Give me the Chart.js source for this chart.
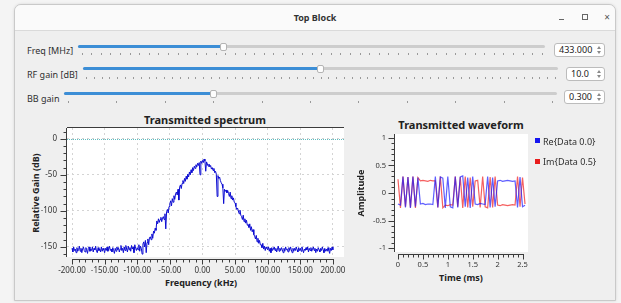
<!DOCTYPE html>
<html>
<head>
<meta charset="utf-8">
<script src="https://cdn.jsdelivr.net/npm/chart.js@4.4.1/dist/chart.umd.min.js"></script>
<style>
  body { margin: 0; width: 621px; height: 303px; overflow: hidden; position: relative;
         background: #f4f4f4; font-family: "Noto Sans", sans-serif; color: #2f2f2f; }
  .abs { position: absolute; }
  #win { left: 14px; top: 4px; width: 602px; height: 297px; box-sizing: border-box;
         background: #efefef; border: 1px solid #c9c9c9; border-radius: 7px 7px 0 0;
         box-shadow: 0 0 3px rgba(0,0,0,0.12); }
  #bar { left: 15px; top: 5px; width: 600px; height: 25px; background: #fafafa;
         border-bottom: 1px solid #dadada; border-radius: 6px 6px 0 0; }
  .c { position: absolute; transform: translate(-50%, -50%); white-space: nowrap; }
  .l { position: absolute; transform: translateY(-50%); white-space: nowrap; font-size: 9px; }
  .groove { position: absolute; height: 3px; background: #cdcdcd; border-radius: 2px; }
  .fill { position: absolute; left: 0; top: 0; height: 3px; background: #3c8ed6; border-radius: 2px; }
  .knob { position: absolute; width: 7px; height: 8px; box-sizing: border-box; background: #fdfdfd;
          border: 1px solid #b4b4b4; border-radius: 2px; }
  .tick { position: absolute; width: 1px; height: 2px; background: #9a9a9a; }
  .spin { position: absolute; box-sizing: border-box; background: #fff; border: 1px solid #bcbcbc;
          border-radius: 3px; font-size: 9px; line-height: 11px; padding-left: 4px; color: #222; }
  .up, .dn { position: absolute; right: 3px; width: 0; height: 0;
             border-left: 2px solid transparent; border-right: 2px solid transparent; }
  .up { top: 2px; border-bottom: 3px solid #8a8a8a; }
  .dn { bottom: 2px; border-top: 3px solid #8a8a8a; }
  .ttl { font-weight: bold; font-size: 11px; color: #222; }
  .ax { font-weight: bold; font-size: 9px; color: #222; }
  canvas { position: absolute; }
</style>
</head>
<body>
<div id="win" class="abs"></div>
<div id="bar" class="abs"></div>
<div class="c" style="left:315px;top:17px;font-size:9px;font-weight:bold;color:#333">Top Block</div>
<div class="abs" style="left:559px;top:19px;width:5px;height:1px;background:#666"></div>
<div class="abs" style="left:582px;top:14px;width:6px;height:6px;border:1px solid #666;box-sizing:border-box"></div>
<div class="c" style="left:607px;top:17px;font-size:10px;color:#555">×</div>

<div id="controls"></div>

<div class="c ttl" style="left:205px;top:119px">Transmitted spectrum</div>
<div class="c ax" style="left:35px;top:193px;transform:translate(-50%,-50%) rotate(-90deg)">Relative Gain (dB)</div>
<div class="c ax" style="left:201px;top:282px">Frequency (kHz)</div>
<canvas id="spec" width="335" height="182" style="left:20px;top:108px"></canvas>

<div class="c ttl" style="left:461px;top:124px">Transmitted waveform</div>
<div class="c ax" style="left:360px;top:193px;transform:translate(-50%,-50%) rotate(-90deg)">Amplitude</div>
<div class="c ax" style="left:461px;top:277px">Time (ms)</div>
<canvas id="wave" width="185" height="160" style="left:350px;top:128px"></canvas>
<div id="legend"></div>

<script>
// ---- data ----
const sliderLabels = ['Freq [MHz]', 'RF gain [dB]', 'BB gain'];
const sliderValues = ['433.000', '10.0', '0.300'];

// spectrum: relative gain (dB) per 1.25 kHz bin, -200 kHz .. +200 kHz (8 bins per row = 10 kHz)
const specStartKHz = -200;
const specBinKHz = 1.25;
const specGain = [
  -152, -157, -150, -155, -153, -158, -151, -156,
  -154, -149, -156, -152, -158, -153, -150, -155,
  -157, -151, -154, -159, -152, -150, -156, -153,
  -155, -150, -157, -152, -154, -149, -156, -158,
  -151, -155, -153, -157, -150, -156, -152, -154,
  -158, -152, -155, -150, -156, -153, -149, -155,
  -153, -157, -151, -155, -159, -152, -156, -150,
  -154, -151, -157, -153, -148, -155, -152, -158,
  -150, -155, -148, -153, -157, -149, -154, -151,
  -156, -148, -153, -150, -158, -147, -152, -155,
  -151, -154, -147, -156, -149, -152, -160, -146,
  -143, -150, -141, -158, -144, -139, -147, -137,
  -136, -140, -132, -138, -128, -131, -124, -127,
  -114, -118, -111, -116, -112, -109, -115, -110,
  -108, -112, -104, -125, -101, -98, -103, -94,
  -90, -86, -93, -83, -88, -79, -84, -76,
  -74, -78, -70, -85, -67, -64, -69, -62,
  -58, -62, -55, -59, -52, -56, -49, -53,
  -46, -50, -43, -47, -40, -44, -38, -41,
  -36, -39, -34, -37, -33, -50, -31, -34,
  -30, -33, -28, -31, -45, -32, -35, -38,
  -35, -39, -37, -42, -40, -44, -41, -47,
  -45, -49, -80, -51, -55, -53, -58, -61,
  -63, -68, -90, -70, -73, -71, -75, -72,
  -76, -80, -74, -83, -79, -85, -82, -88,
  -89, -94, -98, -96, -100, -104, -99, -106,
  -108, -112, -106, -115, -111, -117, -113, -120,
  -119, -123, -118, -127, -122, -129, -126, -133,
  -135, -139, -134, -143, -138, -145, -141, -147,
  -147, -151, -145, -153, -149, -155, -150, -152,
  -154, -150, -156, -152, -158, -151, -155, -153,
  -150, -155, -152, -157, -153, -149, -156, -152,
  -155, -151, -154, -158, -152, -156, -150, -154,
  -153, -157, -151, -155, -150, -154, -158, -152,
  -156, -152, -155, -150, -154, -157, -151, -155,
  -152, -156, -150, -154, -158, -153, -155, -151,
  -154, -150, -157, -152, -155, -151, -156, -153,
  -150, -155, -152, -158, -153, -156, -151, -154,
  -157, -152, -155, -150, -154, -158, -152, -156,
  -153, -156, -151, -155, -159, -152, -155, -150,
  -154
];
const specRefLevel = 0;
const specXTicks = [-200, -150, -100, -50, 0, 50, 100, 150, 200];
const specYTicks = [0, -50, -100, -150];

// waveform: samples every 0.05 ms
const waveStepMs = 0.05;
const waveLabels = ['Re{Data 0.0}', 'Im{Data 0.5}'];
const waveRe = [
  -0.2, -0.22, 0.3, -0.26, 0.29, -0.27, 0.3, -0.25, 0.28, -0.2,
  -0.19, -0.21, -0.2, -0.2, -0.21, 0.3, -0.26, 0.29, 0.27, -0.27,
  0.3, -0.25, -0.27, 0.3, -0.26, 0.29, 0.31, -0.25, 0.28, -0.27,
  0.3, -0.2, -0.21, -0.19, -0.2, -0.21, 0.3, -0.26, 0.28, -0.25,
  0.22, 0.23, 0.21, 0.22, 0.23, 0.22, 0.21, 0.22, -0.26, 0.29,
  -0.25, -0.22
];
const waveIm = [
  0.25, -0.27, 0.3, -0.25, 0.29, -0.26, 0.3, -0.27, 0.28, 0.22,
  0.23, 0.22, 0.21, 0.23, 0.22, 0.22, -0.26, 0.3, -0.27, -0.22,
  -0.23, -0.21, -0.22, 0.3, -0.25, 0.29, -0.27, 0.3, -0.26, 0.28,
  -0.25, 0.22, 0.23, -0.26, 0.3, -0.25, -0.27, 0.29, -0.26, 0.3,
  -0.22, -0.23, -0.21, -0.22, -0.23, -0.22, -0.21, -0.22, 0.3, -0.25,
  0.28, -0.2
];
const waveXTicks = [0, 0.5, 1, 1.5, 2, 2.5];
const waveYTicks = [1, 0.5, 0, -0.5, -1];
const waveColors = ['rgba(25,25,255,0.7)', 'rgba(240,10,10,0.65)'];
const legendColors = ['#1515f0', '#e81c1c'];

// ---- Qt controls ----
const rows = [
  { y: 45, x0: 78, x1: 545, knob: 223.5, tickY: 53, t0: 81.7, t1: 541.7, n: 48, lab: 50, box: [554, 43, 51, 14] },
  { y: 67, x0: 83, x1: 558, knob: 320.7, tickY: 77, t0: 86, t1: 555, n: 60, lab: 73.5, box: [566, 67, 39, 14] },
  { y: 92, x0: 64, x1: 557, knob: 213.3, tickY: 101, t0: 68, t1: 552, n: 10, lab: 97.5, box: [564, 90, 41, 14] }
];
let html = '';
rows.forEach((r, i) => {
  html += `<div class="l" style="left:27px;top:${r.lab}px">${sliderLabels[i]}</div>`;
  html += `<div class="groove" style="left:${r.x0}px;top:${r.y}px;width:${r.x1 - r.x0}px">` +
          `<div class="fill" style="width:${r.knob - r.x0}px"></div></div>`;
  html += `<div class="knob" style="left:${Math.round(r.knob - 3.5)}px;top:${r.y - 2}px"></div>`;
  for (let k = 0; k <= r.n; k++) {
    const tx = Math.round(r.t0 + (r.t1 - r.t0) * k / r.n);
    html += `<div class="tick" style="left:${tx}px;top:${r.tickY}px"></div>`;
  }
  const [bx, by, bw, bh] = r.box;
  html += `<div class="spin" style="left:${bx}px;top:${by}px;width:${bw}px;height:${bh}px">${sliderValues[i]}` +
          `<div class="up"></div><div class="dn"></div></div>`;
});
document.getElementById('controls').innerHTML = html;

let lg = '';
waveLabels.forEach((t, i) => {
  const cy = 140.5 + i * 20.5;
  lg += `<div class="abs" style="left:535px;top:${Math.round(cy - 2.5)}px;width:5px;height:5px;background:${legendColors[i]}"></div>`;
  lg += `<div class="l" style="left:543px;top:${cy}px">${t}</div>`;
});
document.getElementById('legend').innerHTML = lg;

// ---- charts ----
Chart.defaults.font.family = '"Noto Sans", sans-serif';
Chart.defaults.color = '#333';

// Qwt-like scales: white canvas, backbone lines with major/minor ticks
const qwt = {
  id: 'qwt',
  beforeDraw(chart) {
    const { ctx, chartArea: a } = chart;
    ctx.save();
    ctx.fillStyle = '#fff';
    ctx.fillRect(a.left, a.top, a.right - a.left, a.bottom - a.top);
    ctx.restore();
  },
  beforeDatasetsDraw(chart, args, o) {
    if (o.refLevel === undefined) return;
    const { ctx, chartArea: a, scales: { y } } = chart;
    const py = Math.round(y.getPixelForValue(o.refLevel)) + 0.5;
    ctx.save();
    ctx.strokeStyle = o.refColor;
    ctx.setLineDash([1, 1]);
    ctx.beginPath();
    ctx.moveTo(a.left, py);
    ctx.lineTo(a.right, py);
    ctx.stroke();
    ctx.restore();
  },
  afterDraw(chart, args, o) {
    const { ctx, chartArea: a, scales: { x, y } } = chart;
    const isMajor = (v, m) => Math.abs(v / m - Math.round(v / m)) < 1e-6;
    ctx.save();
    ctx.strokeStyle = '#3c3c3c';
    ctx.lineWidth = 1;
    ctx.beginPath();
    if (o.topLine) {
      ctx.moveTo(a.left, a.top - 0.5);
      ctx.lineTo(a.right, a.top - 0.5);
    }
    // left axis
    const bx = a.left - 0.5;
    ctx.moveTo(bx, a.top);
    ctx.lineTo(bx, a.bottom);
    for (let k = Math.ceil(y.min / o.yMinor - 1e-6); k * o.yMinor <= y.max + 1e-9; k++) {
      const v = k * o.yMinor;
      const p = Math.round(y.getPixelForValue(v)) + 0.5;
      ctx.moveTo(bx, p);
      ctx.lineTo(bx - (isMajor(v, o.yMajor) ? 6 : 3), p);
    }
    // bottom axis
    const by = a.bottom + 2.5;
    ctx.moveTo(Math.round(x.getPixelForValue(o.xFrom)), by);
    ctx.lineTo(Math.round(x.getPixelForValue(o.xTo)) + 1, by);
    for (let k = Math.round(o.xFrom / o.xMinor); k <= Math.round(o.xTo / o.xMinor); k++) {
      const v = k * o.xMinor;
      const p = Math.round(x.getPixelForValue(v)) + 0.5;
      ctx.moveTo(p, by);
      ctx.lineTo(p, by + (isMajor(v, o.xMajor) ? 5 : 3));
    }
    ctx.stroke();
    ctx.restore();
  }
};

// invisible tick marks reserve the gap between canvas and labels
const gapGrid = (len, extra) => Object.assign({ drawTicks: true, tickLength: len, tickColor: 'transparent' }, extra);

const specData = specGain.map((g, i) => ({ x: specStartKHz + i * specBinKHz, y: g }));

new Chart(document.getElementById('spec'), {
  type: 'line',
  data: {
    datasets: [{
      data: specData, borderColor: '#0c0cd2', borderWidth: 1, pointRadius: 0, tension: 0
    }]
  },
  options: {
    responsive: false, devicePixelRatio: 1, animation: false,
    layout: { padding: { top: 20, right: 11, left: 0, bottom: 0 } },
    plugins: {
      legend: { display: false }, tooltip: { enabled: false },
      qwt: { refLevel: specRefLevel, refColor: '#5fbcbf', topLine: true,
             yMinor: 10, yMajor: 50, xFrom: -200, xTo: 200, xMinor: 10, xMajor: 50 }
    },
    scales: {
      x: {
        type: 'linear', min: -207.7, max: 217,
        afterFit: s => { s.height = 33; },
        afterBuildTicks: s => { s.ticks = specXTicks.map(v => ({ value: v })); },
        ticks: { callback: v => v.toFixed(2), font: { size: 8 }, padding: 0, autoSkip: false, maxRotation: 0, color: '#333' },
        grid: gapGrid(9, { color: '#d4d4d4' }),
        border: { display: false, dash: [2, 3] }
      },
      y: {
        min: -164, max: 15,
        afterFit: s => { s.width = 47; },
        afterBuildTicks: s => { s.ticks = specYTicks.map(v => ({ value: v })); },
        ticks: { font: { size: 8 }, padding: 0, color: '#333' },
        grid: gapGrid(10, { color: '#d4d4d4' }),
        border: { display: false, dash: [2, 3] }
      }
    }
  },
  plugins: [qwt]
});

new Chart(document.getElementById('wave'), {
  type: 'line',
  data: {
    datasets: [waveRe, waveIm].map((s, j) => ({
      label: waveLabels[j],
      data: s.map((v, i) => ({ x: i * waveStepMs, y: v })),
      borderColor: waveColors[j], borderWidth: 1.2, pointRadius: 0, tension: 0
    }))
  },
  options: {
    responsive: false, devicePixelRatio: 1, animation: false,
    layout: { padding: { top: 6, right: 7, left: 0, bottom: 0 } },
    plugins: {
      legend: { display: false }, tooltip: { enabled: false },
      qwt: { yMinor: 0.1, yMajor: 0.5, xFrom: 0, xTo: 2.5, xMinor: 0.1, xMajor: 0.5 }
    },
    scales: {
      x: {
        type: 'linear', min: -0.06, max: 2.61,
        afterFit: s => { s.height = 36; },
        afterBuildTicks: s => { s.ticks = waveXTicks.map(v => ({ value: v })); },
        ticks: { callback: v => String(v), font: { size: 7.5 }, padding: 0, autoSkip: false, maxRotation: 0, color: '#333' },
        grid: gapGrid(8, { drawOnChartArea: false }),
        border: { display: false }
      },
      y: {
        min: -1.07, max: 1.07,
        afterFit: s => { s.width = 45; },
        afterBuildTicks: s => { s.ticks = waveYTicks.map(v => ({ value: v })); },
        ticks: { callback: v => String(v), font: { size: 7.5 }, padding: 0, color: '#333' },
        grid: gapGrid(9, { drawOnChartArea: false }),
        border: { display: false }
      }
    }
  },
  plugins: [qwt]
});
</script>
</body>
</html>
